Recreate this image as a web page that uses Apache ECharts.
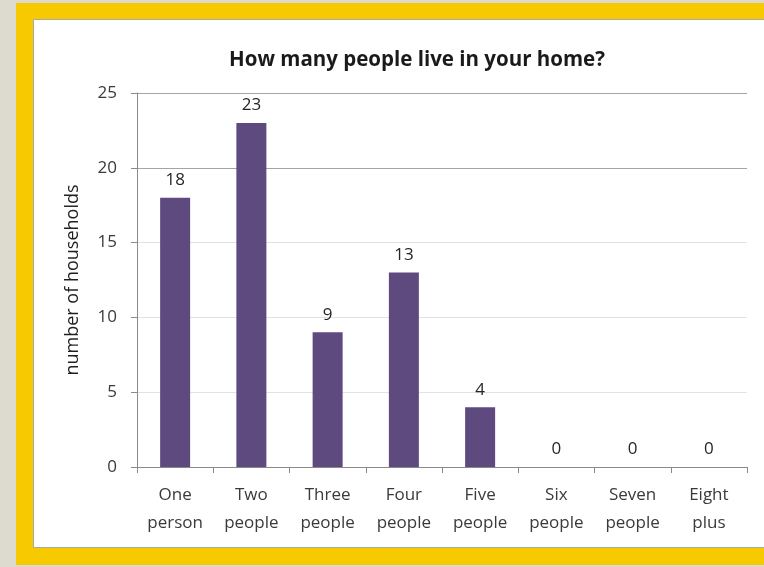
<!DOCTYPE html>
<html>
<head>
<meta charset="utf-8">
<script src="https://cdn.jsdelivr.net/npm/echarts@6/dist/echarts.min.js"></script>
<style>
html,body{margin:0;padding:0;background:#dddbd0;}
#chart{width:764px;height:567px;}
</style>
</head>
<body>
<div id="chart"></div>
<script>
const categories = ['One\nperson','Two\npeople','Three\npeople','Four\npeople','Five\npeople','Six\npeople','Seven\npeople','Eight\nplus'];
const households = [18, 23, 9, 13, 4, 0, 0, 0];
const titleText = 'How many people live in your home?';
const yAxisName = 'number of households';

const chart = echarts.init(document.getElementById('chart'));
const FONT = 'Open Sans';
chart.setOption({
  animation: false,
  backgroundColor: '#dddbd0',
  graphic: [
    {type:'rect', z:-10, shape:{x:16,y:3,width:748,height:562}, style:{fill:'#f6c900'}},
    {type:'rect', z:-9, shape:{x:33.5,y:19.5,width:740,height:528}, style:{fill:'#ffffff', stroke:'#a8a8a8', lineWidth:1}}
  ],
  title: {
    text: titleText,
    left: 412, top: 45, textAlign: 'center',
    textStyle: {fontFamily: FONT, fontSize: 20.5, fontWeight: 'bold', color: '#1a1a1a'}
  },
  grid: {left: 137, right: 17, top: 93, bottom: 100, containLabel: false},
  xAxis: {
    type: 'category',
    data: categories,
    axisLine: {lineStyle: {color: '#8a8a8a', width: 1}},
    axisTick: {show: true, length: 6, alignWithLabel: false, lineStyle: {color: '#8a8a8a'}},
    axisLabel: {fontFamily: FONT, fontSize: 17, color: '#3a3a3a', lineHeight: 28, margin: 14, interval: 0}
  },
  yAxis: {
    type: 'value',
    min: 0, max: 25, interval: 5,
    name: yAxisName,
    nameLocation: 'middle',
    nameRotate: 90,
    nameGap: 55,
    nameTextStyle: {fontFamily: FONT, fontSize: 18, color: '#1f1f1f'},
    axisLine: {show: true, lineStyle: {color: '#8a8a8a', width: 1}},
    axisTick: {show: true, length: 6, inside: false, lineStyle: {color: '#8a8a8a'}},
    axisLabel: {fontFamily: FONT, fontSize: 17, color: '#3a3a3a', margin: 20},
    splitLine: {show: true, lineStyle: {color: ['#8a8a8a','#e2e2e2','#e2e2e2','#e2e2e2','#a4a4a4','#a4a4a4'], width: 1}}
  },
  series: [{
    type: 'bar',
    data: households,
    barWidth: 30,
    itemStyle: {color: '#5e4a7e'},
    label: {show: true, position: 'top', distance: 9, fontFamily: FONT, fontSize: 17, color: '#262626'}
  }]
});
</script>
</body>
</html>
